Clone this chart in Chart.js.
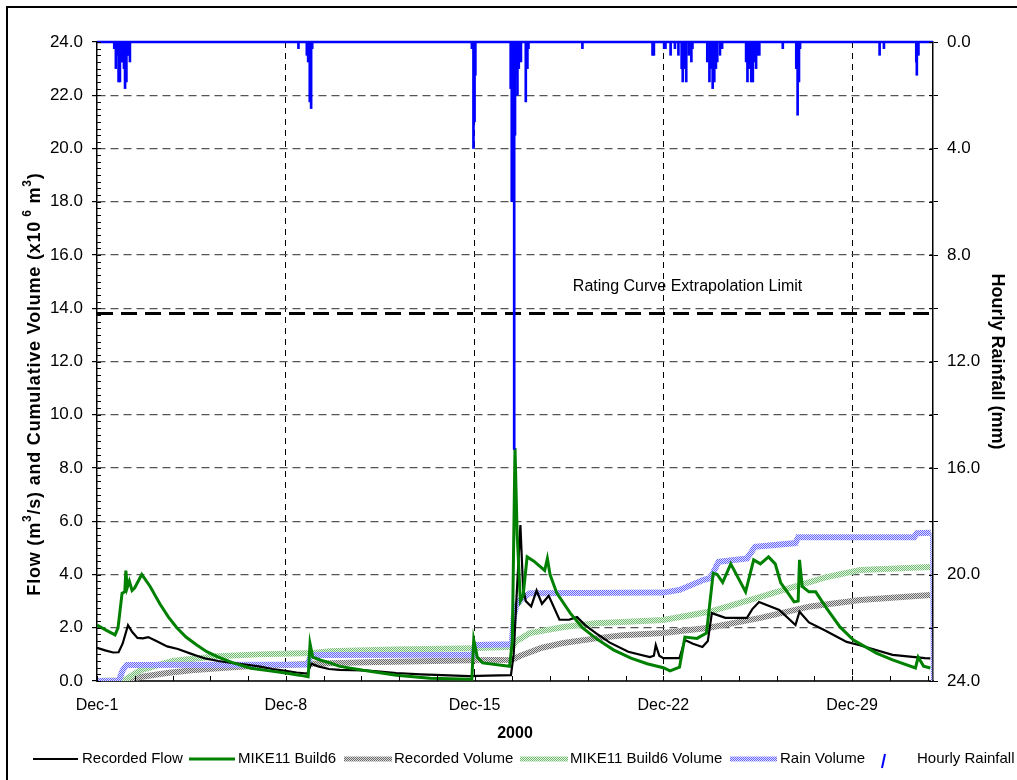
<!DOCTYPE html>
<html>
<head>
<meta charset="utf-8">
<script src="https://cdn.jsdelivr.net/npm/chart.js@4.4.0/dist/chart.umd.min.js"></script>
<style>
  html, body { margin: 0; padding: 0; background: #fff; }
  #wrap { position: relative; width: 1017px; height: 780px; overflow: hidden; }
  #frame { position: absolute; left: 6px; top: 6px; width: 1100px; height: 900px; border: 2px solid #000; }
  #chart { position: absolute; left: 0; top: 0; }
</style>
</head>
<body>
<div id="wrap">
  <div id="frame"></div>
  <canvas id="chart" width="1017" height="780"></canvas>
</div>
<script>
// time axis is in days after Dec-1 00:00
const tickDays = [0, 7, 14, 21, 28];
const tickLabels = ['Dec-1', 'Dec-8', 'Dec-15', 'Dec-22', 'Dec-29'];

const recFlowDay = [0, 0.3, 0.6, 0.8, 0.95, 1.15, 1.3, 1.5, 1.7, 1.9, 2.2, 2.6, 3.0, 3.5, 3.7, 4.0, 4.5, 5.0, 5.5, 6.0, 6.5, 7.0, 7.4, 7.8, 7.95, 8.2, 8.6, 9.0, 9.9, 10.5, 11.1, 12.0, 12.8, 13.8, 14.5, 15.35, 15.45, 15.55, 15.7, 15.8, 15.9, 16.1, 16.3, 16.5, 16.75, 17.15, 17.5, 17.8, 18.1, 18.5, 19.0, 19.7, 20.5, 20.65, 20.72, 20.85, 21.0, 21.6, 21.8, 22.1, 22.45, 22.65, 22.8, 23.3, 24.1, 24.3, 24.55, 25.3, 25.9, 26.05, 26.4, 27.0, 27.8, 28.25, 29.5, 30.7, 30.9];
const recFlowVal = [1.25, 1.15, 1.07, 1.08, 1.4, 2.1, 1.85, 1.62, 1.6, 1.65, 1.5, 1.3, 1.2, 1.02, 0.95, 0.85, 0.75, 0.68, 0.62, 0.55, 0.45, 0.38, 0.32, 0.28, 0.65, 0.55, 0.45, 0.42, 0.4, 0.35, 0.3, 0.25, 0.22, 0.18, 0.2, 0.22, 1.0, 3.0, 5.86, 3.5, 3.0, 2.8, 3.4, 2.9, 3.2, 2.3, 2.3, 2.4, 2.1, 1.8, 1.45, 1.1, 0.9, 0.95, 1.35, 0.95, 0.86, 0.86, 1.54, 1.4, 1.28, 1.5, 2.55, 2.37, 2.37, 2.7, 2.97, 2.67, 2.1, 2.6, 2.2, 1.9, 1.47, 1.35, 0.98, 0.86, 0.85];

const simFlowDay = [0, 0.35, 0.67, 0.78, 0.93, 1.03, 1.07, 1.12, 1.2, 1.3, 1.4, 1.66, 1.97, 2.33, 2.65, 2.96, 3.3, 3.7, 4.07, 4.5, 5.0, 5.7, 6.4, 7.05, 7.5, 7.83, 7.9, 8.0, 8.3, 8.64, 9.0, 9.87, 11.1, 12.35, 13.9, 13.97, 14.1, 14.3, 15.3, 15.4, 15.5, 15.58, 15.7, 15.8, 15.95, 16.2, 16.6, 16.7, 16.8, 17.05, 17.55, 18.0, 18.5, 19.15, 19.8, 20.4, 21.0, 21.25, 21.6, 21.8, 22.25, 22.6, 22.85, 23.0, 23.2, 23.5, 24.05, 24.35, 24.6, 24.9, 25.15, 25.35, 25.85, 26.0, 26.05, 26.15, 26.4, 26.65, 27.05, 27.55, 28.05, 28.9, 29.5, 30.35, 30.45, 30.65, 30.9];
const simFlowVal = [2.1, 1.9, 1.73, 2.0, 3.3, 3.35, 4.15, 3.5, 3.75, 3.4, 3.5, 4.0, 3.55, 2.9, 2.4, 2.0, 1.65, 1.35, 1.1, 0.9, 0.7, 0.48, 0.38, 0.29, 0.22, 0.16, 1.4, 0.9, 0.78, 0.68, 0.55, 0.4, 0.22, 0.1, 0.07, 1.55, 0.9, 0.68, 0.55, 1.5, 8.75, 5.5, 3.0, 3.2, 4.66, 4.5, 4.15, 4.6, 4.0, 3.3, 2.55, 2.0, 1.6, 1.17, 0.86, 0.65, 0.5, 0.38, 0.52, 1.65, 1.6, 1.8, 4.05, 4.0, 3.7, 4.4, 3.35, 4.55, 4.4, 4.66, 4.4, 3.7, 2.97, 3.0, 4.55, 3.55, 3.35, 3.35, 2.74, 2.03, 1.54, 1.05, 0.79, 0.49, 0.9, 0.56, 0.49];

const recVolDay = [0, 1.0, 1.6, 2.6, 3.5, 4.5, 5.6, 7.0, 8.0, 8.64, 10, 12, 13.95, 15.4, 15.7, 16.5, 17.3, 18.5, 19.5, 21, 22.7, 24.6, 26.45, 28.3, 30.9];
const recVolVal = [0, 0.02, 0.15, 0.3, 0.4, 0.48, 0.55, 0.6, 0.65, 0.67, 0.7, 0.74, 0.78, 0.8, 0.95, 1.25, 1.43, 1.6, 1.72, 1.8, 2.0, 2.37, 2.8, 3.04, 3.23];

const simVolDay = [0, 1.0, 1.6, 2.8, 4.45, 6.0, 8.0, 8.64, 11, 13.95, 15.4, 15.55, 16.05, 17.3, 18.5, 21, 22.7, 24.6, 25.8, 27.05, 28.3, 30.9];
const simVolVal = [0, 0.02, 0.4, 0.75, 0.93, 1.0, 1.05, 1.12, 1.18, 1.23, 1.28, 1.5, 1.8, 2.03, 2.17, 2.29, 2.6, 3.16, 3.53, 3.9, 4.17, 4.28];

const rainVolDay = [0, 0.8, 0.95, 1.1, 7.8, 7.95, 13.95, 14.02, 15.38, 15.45, 15.55, 15.7, 16.05, 21, 21.6, 22.5, 22.75, 23.05, 24.1, 24.4, 25.9, 26.0, 30.3, 30.4, 30.92, 30.95];
const rainVolVal = [0, 0, 0.4, 0.6, 0.62, 0.98, 0.99, 1.35, 1.38, 2.4, 2.85, 3.04, 3.3, 3.32, 3.42, 3.8, 3.87, 4.48, 4.6, 5.04, 5.18, 5.4, 5.4, 5.55, 5.57, 0];

const rainDay = [0.64, 0.70, 0.75, 0.80, 0.85, 0.92, 0.96, 1.00, 1.04, 1.09, 1.13, 1.17, 1.22,
  7.47, 7.78, 7.83, 7.89, 7.94, 7.98,
  13.90, 13.96, 14.00, 14.03,
  15.34, 15.38, 15.42, 15.47, 15.50, 15.54, 15.59, 15.64, 15.69, 15.72, 15.90, 15.96, 16.00,
  18.00, 20.60, 20.65,
  21.03, 21.08, 21.27, 21.43, 21.56, 21.68, 21.72, 21.80, 21.85, 21.94, 22.04, 22.08,
  22.63, 22.71, 22.76, 22.83, 22.89, 22.95, 23.00, 23.10, 23.18,
  24.07, 24.12, 24.19, 24.26, 24.32, 24.38, 24.44, 24.50, 24.56,
  25.43, 25.93, 25.98, 26.03, 26.07,
  29.02, 29.18, 30.38, 30.40, 30.46];
const rainMm = [0.25, 1.0, 0.5, 1.5, 1.5, 0.75, 0.75, 1.0, 1.75, 1.5, 0.5, 0.5, 0.75,
  0.25, 0.5, 0.75, 2.25, 2.5, 0.25,
  0.25, 4.0, 3.0, 1.25,
  1.75, 6.0, 2.5, 15.3, 3.5, 1.25, 2.0, 1.0, 0.5, 0.75, 2.25, 1.0, 0.25,
  0.25, 0.5, 0.5,
  0.25, 0.25, 0.5, 0.25, 0.5, 1.0, 1.5, 1.0, 1.5, 0.5, 0.75, 0.25,
  0.75, 1.5, 1.0, 1.75, 1.5, 1.0, 0.75, 0.5, 0.25,
  0.75, 1.5, 1.0, 1.5, 1.5, 0.75, 1.0, 0.5, 0.5,
  0.25, 1.0, 2.75, 1.5, 0.25,
  0.5, 0.25, 0.75, 1.25, 0.5];

const ratingLimit = 13.8;

function pts(xs, ys) {
  return xs.map((x, i) => ({ x: x, y: ys[i] }));
}

const canvas = document.getElementById('chart');
const ctx = canvas.getContext('2d');

// small dotted fill, like the hatched volume lines of the original
function hatch(dark, light) {
  const c = document.createElement('canvas');
  c.width = 2; c.height = 2;
  const g = c.getContext('2d');
  g.fillStyle = light; g.fillRect(0, 0, 2, 2);
  g.fillStyle = dark; g.fillRect(0, 0, 1, 1); g.fillRect(1, 1, 1, 1);
  return ctx.createPattern(c, 'repeat');
}

const FONT = '"Liberation Sans", Arial, "DejaVu Sans", sans-serif';
Chart.defaults.font.family = FONT;
Chart.defaults.color = '#000';

const rainVolLast = rainVolDay.length - 1;

const extras = {
  id: 'extras',
  afterDatasetsDraw(chart) {
    const c = chart.ctx;
    const a = chart.chartArea;
    const xs = chart.scales.x, ys = chart.scales.y, y2 = chart.scales.y2;
    c.save();
    // rainfall baseline along the top
    c.strokeStyle = '#0000ff';
    c.lineWidth = 2.5;
    c.beginPath(); c.moveTo(a.left, a.top); c.lineTo(a.right, a.top); c.stroke();
    // minor ticks
    c.strokeStyle = '#000';
    c.lineWidth = 1;
    c.beginPath();
    for (let i = 0; i <= 96; i++) {
      const y = Math.round(ys.getPixelForValue(i * 0.25)) + 0.5;
      c.moveTo(a.left, y); c.lineTo(a.left + 4, y);
    }
    for (let i = 0; i <= 12; i++) {
      const y = Math.round(y2.getPixelForValue(i * 2)) + 0.5;
      c.moveTo(a.right - 4, y); c.lineTo(a.right, y);
    }
    for (let i = 0; i <= 22; i++) {
      const x = Math.round(xs.getPixelForValue(i * 1.4)) + 0.5;
      c.moveTo(x, a.bottom); c.lineTo(x, a.bottom - 5);
    }
    c.stroke();
    // rating curve label
    c.font = '16px ' + FONT;
    c.fillStyle = '#000';
    c.textAlign = 'center';
    c.textBaseline = 'middle';
    c.fillText('Rating Curve Extrapolation Limit', xs.getPixelForValue(21.9), ys.getPixelForValue(ratingLimit + 1.0));
    c.restore();
  },
  afterDraw(chart) {
    const c = chart.ctx;
    // left axis title with superscripts
    drawRich(c, [
      { t: 'Flow (m' }, { t: '3', sup: true }, { t: '/s) and Cumulative Volume (x10' },
      { t: ' 6', sup: true }, { t: ' m' }, { t: '3', sup: true }, { t: ')' }
    ], 35, 384, -Math.PI / 2, 18, 0.8);
    // legend
    const ds = chart.data.datasets;
    const ly = 759;
    const slots = [[33, 78, 82], [189, 235, 238], [344, 392, 394], [520, 568, 570], [730, 777, 780]];
    c.save();
    c.font = '15px ' + FONT;
    c.textBaseline = 'middle';
    c.textAlign = 'left';
    c.fillStyle = '#000';
    slots.forEach((s, i) => {
      const d = ds[i];
      c.strokeStyle = d.borderColor;
      c.lineWidth = Math.min(d.borderWidth, 5);
      c.beginPath(); c.moveTo(s[0], ly); c.lineTo(s[1], ly); c.stroke();
      c.fillText(d.label, s[2], ly);
    });
    c.strokeStyle = '#0000ff';
    c.lineWidth = 2;
    c.beginPath(); c.moveTo(882, 768); c.lineTo(885, 754); c.stroke();
    c.fillText(ds[5].label, 917, ly);
    c.restore();
  }
};

function drawRich(c, parts, cx, cy, angle, size, spacing) {
  const base = 'bold ' + size + 'px ' + FONT;
  const small = 'bold ' + Math.round(size * 0.65) + 'px ' + FONT;
  c.save();
  c.translate(cx, cy);
  c.rotate(angle);
  c.textBaseline = 'middle';
  c.textAlign = 'left';
  c.fillStyle = '#000';
  c.letterSpacing = spacing + 'px';
  let w = 0;
  parts.forEach(p => { c.font = p.sup ? small : base; w += c.measureText(p.t).width; });
  let x = -w / 2;
  parts.forEach(p => {
    c.font = p.sup ? small : base;
    c.fillText(p.t, x, p.sup ? -size * 0.38 : 0);
    x += c.measureText(p.t).width;
  });
  c.restore();
}

new Chart(ctx, {
  type: 'line',
  data: {
    datasets: [
      {
        label: 'Recorded Flow',
        data: pts(recFlowDay, recFlowVal),
        borderColor: '#000000',
        borderWidth: 2.2,
        yAxisID: 'y',
        order: 2
      },
      {
        label: 'MIKE11 Build6',
        data: pts(simFlowDay, simFlowVal),
        borderColor: '#008000',
        borderWidth: 3,
        yAxisID: 'y',
        order: 1
      },
      {
        label: 'Recorded Volume',
        data: pts(recVolDay, recVolVal),
        borderColor: hatch('#6a6a6a', '#dcdcdc'),
        borderWidth: 6,
        yAxisID: 'y',
        order: 5
      },
      {
        label: 'MIKE11 Build6 Volume',
        data: pts(simVolDay, simVolVal),
        borderColor: hatch('#74bc74', '#e0f2e0'),
        borderWidth: 6,
        yAxisID: 'y',
        order: 4
      },
      {
        label: 'Rain Volume',
        data: pts(rainVolDay, rainVolVal),
        borderColor: hatch('#6464ff', '#e2e2ff'),
        borderWidth: 6,
        segment: { borderWidth: s => (s.p1DataIndex === rainVolLast ? 1.5 : 6) },
        yAxisID: 'y',
        order: 3
      },
      {
        type: 'bar',
        label: 'Hourly Rainfall',
        data: pts(rainDay, rainMm),
        backgroundColor: '#0000ff',
        borderWidth: 0,
        barThickness: 2,
        yAxisID: 'y2',
        order: 0
      },
      {
        label: 'limit',
        data: [{ x: 0, y: ratingLimit }, { x: 31, y: ratingLimit }],
        borderColor: '#000000',
        borderWidth: 3,
        borderDash: [16, 8],
        yAxisID: 'y',
        order: 6
      }
    ]
  },
  options: {
    responsive: false,
    animation: false,
    layout: { padding: { top: 42, left: 0, right: 0, bottom: 0 } },
    plugins: { legend: { display: false }, tooltip: { enabled: false } },
    elements: { point: { radius: 0 }, line: { tension: 0 } },
    scales: {
      x: {
        type: 'linear',
        min: 0,
        max: 31,
        offset: false,
        afterBuildTicks: s => { s.ticks = tickDays.map(v => ({ value: v })); },
        afterFit: s => { s.height = 99; },
        ticks: {
          autoSkip: false,
          maxRotation: 0,
          padding: 15,
          font: { size: 16 },
          callback: v => tickLabels[tickDays.indexOf(v)]
        },
        grid: {
          offset: false,
          drawTicks: false,
          lineWidth: 1,
          color: c => (c.tick && c.tick.value === 0 ? 'rgba(0,0,0,0)' : '#000')
        },
        border: { color: '#333', width: 2, dash: [6, 5] },
        title: {
          display: true,
          text: '2000',
          font: { size: 16, weight: 'bold' },
          padding: { top: 0, bottom: 37 }
        }
      },
      y: {
        position: 'left',
        min: 0,
        max: 24,
        afterFit: s => { s.width = 97; },
        ticks: { stepSize: 2, padding: 9, font: { size: 17 }, callback: v => v.toFixed(1) },
        grid: {
          tickLength: 5,
          tickColor: '#000',
          lineWidth: 1.2,
          color: c => (c.tick && (c.tick.value === 0 || c.tick.value === 24) ? 'rgba(0,0,0,0)' : '#555')
        },
        border: { color: '#000', width: 1.5, dash: [8, 5] }
      },
      y2: {
        position: 'right',
        reverse: true,
        min: 0,
        max: 24,
        afterFit: s => { s.width = 84; },
        ticks: { stepSize: 2, padding: 9, font: { size: 17 }, callback: v => (v % 4 === 0 ? v.toFixed(1) : '') },
        grid: { drawOnChartArea: false, tickLength: 5, color: '#000' },
        border: { color: '#000', width: 1.5 },
        title: {
          display: true,
          text: 'Hourly Rainfall (mm)',
          font: { size: 18, weight: 'bold' },
          padding: { top: 9, bottom: 0 }
        }
      }
    }
  },
  plugins: [extras]
});
</script>
</body>
</html>
